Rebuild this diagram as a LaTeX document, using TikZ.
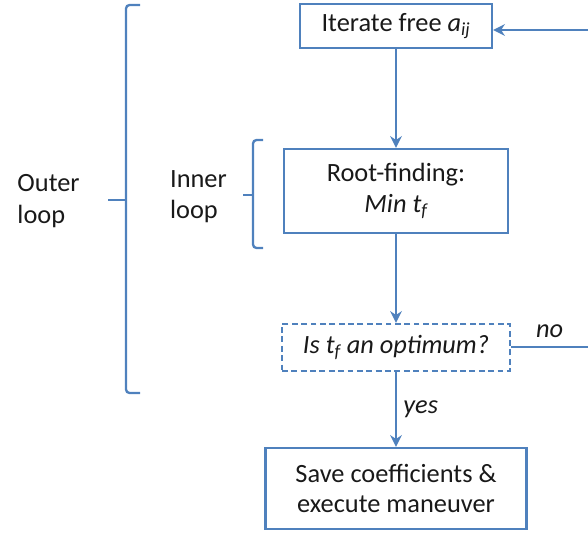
\documentclass[tikz,border=0pt]{standalone}
\usepackage{fontspec}
\setmainfont{Carlito}
\usetikzlibrary{positioning,arrows.meta}
\definecolor{flowblue}{HTML}{4F81BD}

\begin{document}
\begin{tikzpicture}[
			node distance=2.7cm,
			box/.style={
				draw=flowblue,
				line width=2pt,
				align=center,
				inner sep=2pt,
				font=\fontsize{22.5}{26}\selectfont,
				text=black!90
			},
			query/.style={box,dash pattern=on 5pt off 3pt},
			note/.style={align=left,font=\fontsize{22.5}{27}\selectfont,text=black!90},
			arrow/.style={-{Stealth[length=10pt,width=10pt]},draw=flowblue,line width=2pt},
			wire/.style={draw=flowblue,line width=2pt},
			bracket/.style={draw=flowblue,line width=2pt,rounded corners=3pt}
			]
			\useasboundingbox (0,0) rectangle (17.64,-15.99);
			
			\node[box,minimum width=5.76cm,minimum height=1.32cm] (iter) at (11.88,-0.78) {Iterate free \textit{a}\textsubscript{\textit{ij}}};
			\node[box,minimum width=6.72cm,minimum height=2.52cm,below=2.96cm of iter] (root) {Root-finding:\\ \textit{Min t\textsubscript{f}}};
			\node[query,minimum width=6.84cm,minimum height=1.41cm,below=2.66cm of root] (opt) {\textit{Is t\textsubscript{f} an optimum?}};
			\node[box,minimum width=7.83cm,minimum height=2.43cm,below=2.24cm of opt] (save) {Save coefficients \&\\ execute maneuver};
			
			\node[note,anchor=west] (outer) at (0.4,-6.03) {Outer\\loop};
			\node[note,anchor=west] (inner) at (4.98,-5.9) {Inner\\loop};
			
			\coordinate (back) at (17.64,-0.9);
			\coordinate (exit) at (17.64,-10.4);
			
			\draw[arrow] (iter)--(root);
			\draw[arrow] (root)--(opt);
			\draw[arrow] (opt)--node[note,right=2pt] {\textit{yes}} (save);
			\draw[wire] (opt.east|-exit)--node[note,above=3pt] {\textit{no}} (exit);
			\draw[arrow] (back)--(back-|iter.east);
			
			\draw[bracket] (4.2,-0.15)--(3.78,-0.15)--(3.78,-11.79)--(4.2,-11.79);
			\draw[bracket] (3.78,-6.0)--(3.24,-6.0);
			\draw[bracket] (7.89,-4.2)--(7.59,-4.2)--(7.59,-7.44)--(7.89,-7.44);
			\draw[bracket] (7.59,-5.85)--(7.29,-5.85);
			
		\end{tikzpicture}
\end{document}
